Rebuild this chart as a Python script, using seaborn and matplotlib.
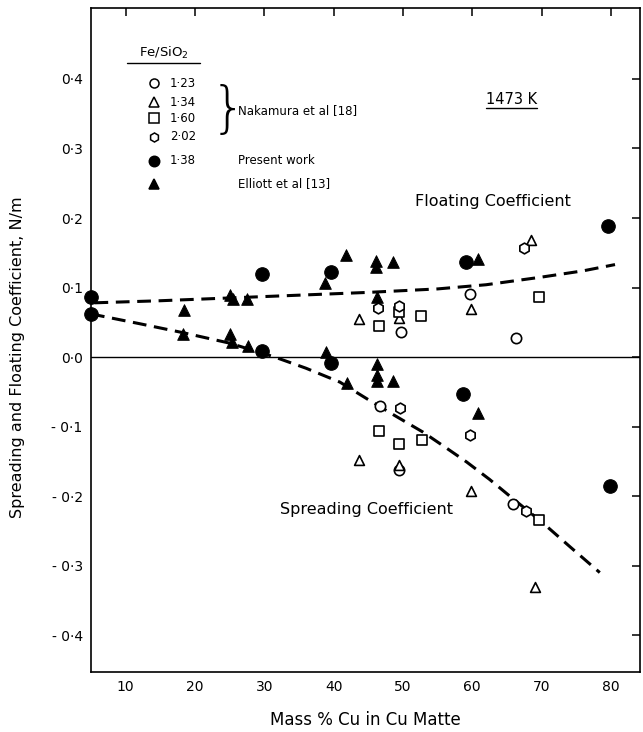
import numpy as np
import pandas as pd
import seaborn as sns
import matplotlib.pyplot as plt

# Nakamura et al [18], open symbols by Fe/SiO2 ratio
nak_123_x = [49.7, 59.7, 66.3, 46.7, 49.5, 65.9]
nak_123_y = [0.036, 0.091, 0.027, -0.071, -0.162, -0.211]
nak_134_x = [43.7, 49.5, 59.8, 68.5, 43.7, 49.5, 59.8, 69.1]
nak_134_y = [0.055, 0.056, 0.069, 0.169, -0.148, -0.156, -0.192, -0.331]
nak_160_x = [46.6, 49.5, 52.6, 69.6, 46.6, 49.5, 52.8, 69.7]
nak_160_y = [0.045, 0.065, 0.059, 0.087, -0.106, -0.125, -0.120, -0.234]
nak_202_x = [46.4, 49.5, 67.5, 49.6, 59.7, 67.8]
nak_202_y = [0.070, 0.073, 0.157, -0.073, -0.112, -0.222]

# present work, Fe/SiO2 = 1.38
present_x = [5, 5, 29.6, 39.6, 59.1, 79.6, 29.6, 39.6, 58.7, 79.9]
present_y = [0.086, 0.062, 0.120, 0.123, 0.137, 0.188, 0.008, -0.009, -0.053, -0.185]

# Elliott et al [13]
elliott_x = [18.4, 25.1, 25.5, 27.5, 38.8, 41.8, 46.1, 46.1, 48.5, 60.8, 46.2,
             18.3, 25.1, 25.4, 27.6, 38.9, 41.9, 46.2, 46.2, 46.2, 48.5, 60.9]
elliott_y = [0.068, 0.089, 0.084, 0.084, 0.107, 0.147, 0.138, 0.129, 0.136, 0.141, 0.086,
             0.033, 0.033, 0.021, 0.016, 0.007, -0.037, -0.010, -0.026, -0.034, -0.035, -0.080]

# dashed curves
float_x = [5.5, 15, 25, 35, 45, 55, 62, 70, 76, 80.6]
float_y = [0.078, 0.081, 0.085, 0.089, 0.093, 0.098, 0.104, 0.115, 0.124, 0.133]
spread_x = [5, 12, 18.3, 25, 31.5, 36, 40.9, 44.8, 48.8, 52.9, 56, 59.2, 62.5, 65.9,
            70, 74, 78.4]
spread_y = [0.062, 0.048, 0.035, 0.020, 0.0, -0.016, -0.036, -0.060, -0.084, -0.108,
            -0.129, -0.151, -0.176, -0.204, -0.237, -0.272, -0.310]

x_ticks = [10, 20, 30, 40, 50, 60, 70, 80]
y_ticks = [-0.4, -0.3, -0.2, -0.1, 0.0, 0.1, 0.2, 0.3, 0.4]
y_labels = ['- 0·4', '- 0·3', '- 0·2', '- 0·1', '0·0', '0·1', '0·2', '0·3', '0·4']

sns.set_style('white')
plt.rcParams['font.family'] = ['DejaVu Sans']
plt.rcParams['text.color'] = 'black'
plt.rcParams['axes.labelcolor'] = 'black'

fig = plt.figure(figsize=(6.43, 7.32), dpi=100)
ax = fig.add_axes([0.1415, 0.082, 0.8538, 0.907])

ax.axhline(0, color='black', lw=1.0)

sns.lineplot(x=float_x, y=float_y, ax=ax, color='black', lw=2.2,
             linestyle=(0, (4.5, 2.5)), estimator=None, sort=False)
sns.lineplot(x=spread_x, y=spread_y, ax=ax, color='black', lw=2.2,
             linestyle=(0, (4.5, 2.5)), estimator=None, sort=False)

open_sets = [(nak_123_x, nak_123_y, 'o', 55), (nak_134_x, nak_134_y, '^', 50),
             (nak_160_x, nak_160_y, 's', 50), (nak_202_x, nak_202_y, 'h', 60)]
for xs, ys, m, s in open_sets:
    sns.scatterplot(x=xs, y=ys, ax=ax, marker=m, s=s, facecolor='white',
                    edgecolor='black', linewidth=1.2, zorder=3)
sns.scatterplot(x=present_x, y=present_y, ax=ax, marker='o', s=95,
                color='black', edgecolor='black', zorder=4, clip_on=False)
sns.scatterplot(x=elliott_x, y=elliott_y, ax=ax, marker='^', s=70,
                color='black', edgecolor='black', zorder=4)

ax.set_xlim(5, 84.2)
ax.set_ylim(-0.453, 0.502)
ax.set_xticks(x_ticks)
ax.set_xticklabels([str(t) for t in x_ticks])
ax.set_yticks(y_ticks)
ax.set_yticklabels(y_labels)
ax.tick_params(direction='in', top=True, right=True, length=6, width=1.1,
               labelsize=10, pad=6, colors='black')
for sp in ax.spines.values():
    sp.set_color('black')
    sp.set_linewidth(1.2)

ax.set_xlabel('Mass % Cu in Cu Matte', fontsize=12, labelpad=12)
ax.set_ylabel('Spreading and Floating Coefficient, N/m', fontsize=11.5)
ax.yaxis.set_label_coords(-0.12, 0.474)

# legend block drawn in axes fraction
T = ax.transAxes
ax.text(0.132, 0.932, 'Fe/SiO$_2$', transform=T, ha='center', va='center', fontsize=9.5)
ax.plot([0.066, 0.199], [0.917, 0.917], transform=T, color='black', lw=1.0)
rows = [('o', 'white', '1·23', 0.887), ('^', 'white', '1·34', 0.858),
        ('s', 'white', '1·60', 0.834), ('h', 'white', '2·02', 0.806),
        ('o', 'black', '1·38', 0.770), ('^', 'black', '', 0.735)]
for m, fc, lab, fy in rows:
    ax.plot([0.115], [fy], transform=T, marker=m, ms=6.5 if fc == 'white' else 7.5,
            mfc=fc, mec='black', mew=1.1, ls='none', clip_on=False)
    if lab:
        ax.text(0.144, fy, lab, transform=T, va='center', fontsize=8.5)
ax.text(0.218, 0.845, '}', transform=T, va='center', ha='left', fontsize=40,
        fontweight='light')
ax.text(0.268, 0.846, 'Nakamura et al [18]', transform=T, va='center', fontsize=8.5)
ax.text(0.268, 0.770, 'Present work', transform=T, va='center', fontsize=8.5)
ax.text(0.268, 0.735, 'Elliott et al [13]', transform=T, va='center', fontsize=8.5)

ax.text(0.766, 0.862, '1473 K', transform=T, ha='center', va='center', fontsize=10.5)
ax.plot([0.72, 0.812], [0.850, 0.850], transform=T, color='black', lw=1.0)
ax.text(0.590, 0.708, 'Floating Coefficient', transform=T, va='center', fontsize=11.5)
ax.text(0.344, 0.244, 'Spreading Coefficient', transform=T, va='center', fontsize=11.5)

fig.savefig('out.png', dpi=100, facecolor='white')
